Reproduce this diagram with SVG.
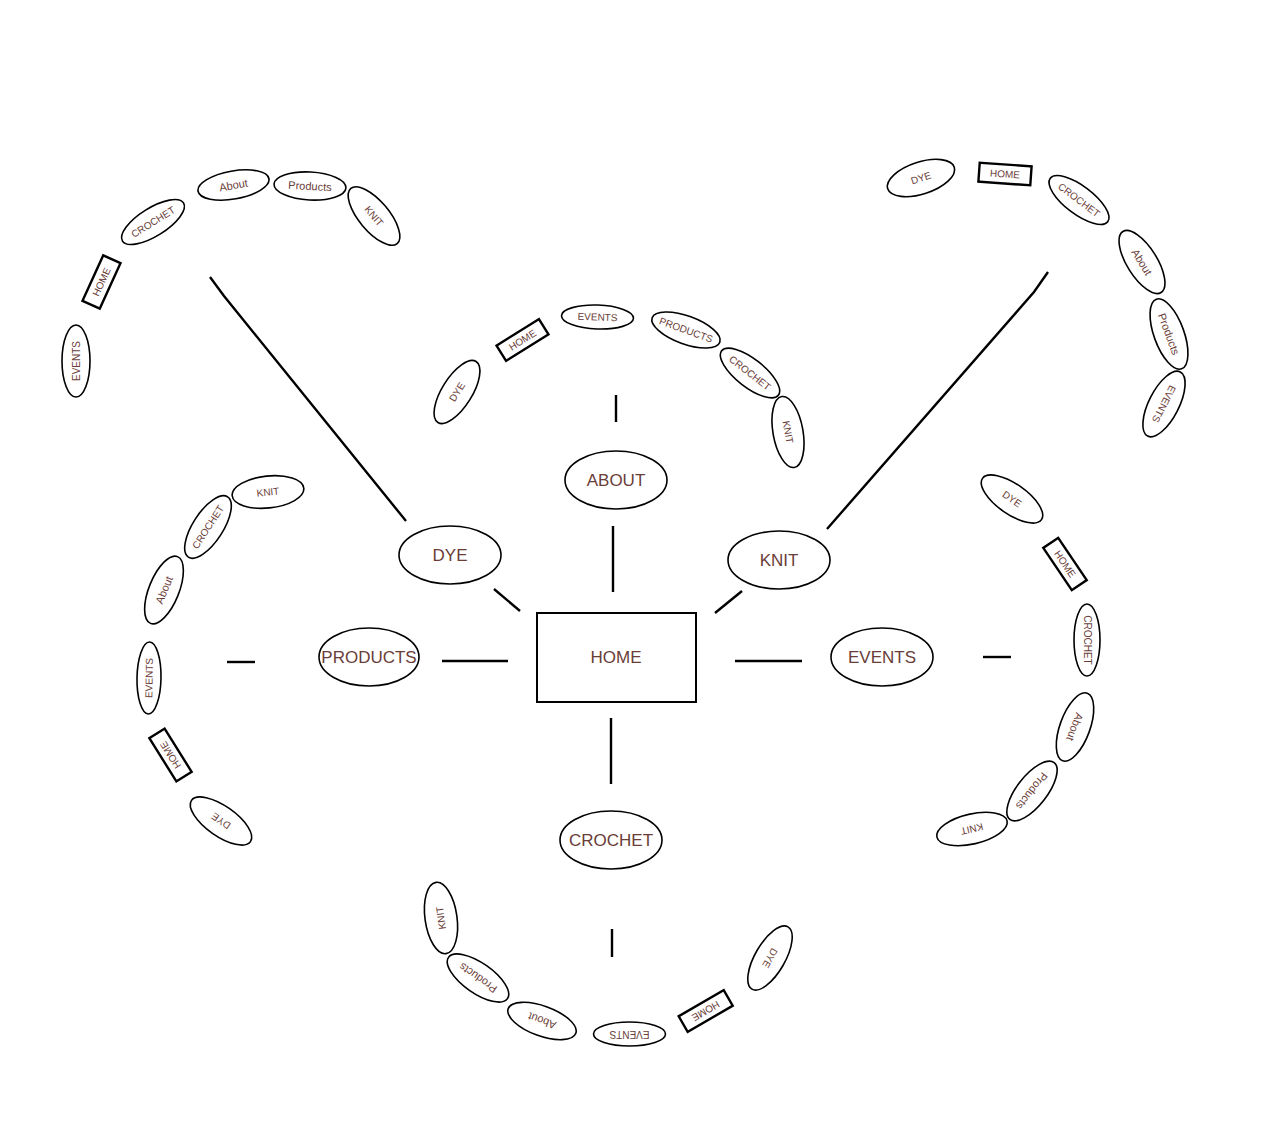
<svg xmlns="http://www.w3.org/2000/svg" width="1265" height="1131" viewBox="0 0 1265 1131">
<style>
.bg{fill:#ffffff}
.n ellipse{fill:#ffffff;stroke:#000;stroke-width:1.6}
.n rect.main{fill:#ffffff;stroke:#000;stroke-width:2}
.s ellipse{fill:#ffffff;stroke:#000;stroke-width:1.6}
.s rect{fill:#ffffff;stroke:#000;stroke-width:2.4}
text{font-family:"Liberation Sans",Arial,sans-serif;fill:#6a3d38;text-anchor:middle;dominant-baseline:central}
.n text{font-size:17px}
.s text{font-size:10px}
.s text.m{font-size:11px}
.c line,.c polyline{stroke:#000;stroke-width:2.4;fill:none}
</style>
<rect class="bg" x="0" y="0" width="1265" height="1131"/>
<g class="c" id="connectors">
<line x1="613" y1="526" x2="613" y2="592"/>
<line x1="494" y1="589" x2="520" y2="611"/>
<line x1="742" y1="591" x2="715" y2="613"/>
<line x1="442" y1="661" x2="508" y2="661"/>
<line x1="735" y1="661" x2="802" y2="661"/>
<line x1="611" y1="718" x2="611" y2="784"/>
<polyline points="406,521 224,296 210,277"/>
<polyline points="827,529 1034,292 1048,272"/>
<line x1="616" y1="395" x2="616" y2="422"/>
<line x1="227" y1="662" x2="255" y2="662"/>
<line x1="983" y1="657" x2="1011" y2="657"/>
<line x1="612" y1="929" x2="612" y2="957"/>
</g>
<g class="n" id="home"><rect class="main" x="537" y="613" width="159" height="89"/><text x="616" y="657">HOME</text></g>
<g class="n" id="about"><ellipse cx="616" cy="480" rx="51" ry="29"/><text x="616" y="480">ABOUT</text></g>
<g class="n" id="dye"><ellipse cx="450" cy="555" rx="51" ry="29"/><text x="450" y="555">DYE</text></g>
<g class="n" id="knit"><ellipse cx="779" cy="560" rx="51" ry="29"/><text x="779" y="560">KNIT</text></g>
<g class="n" id="products"><ellipse cx="369" cy="657" rx="50" ry="29"/><text x="369" y="657">PRODUCTS</text></g>
<g class="n" id="events"><ellipse cx="882" cy="657" rx="51" ry="29"/><text x="882" y="657">EVENTS</text></g>
<g class="n" id="crochet"><ellipse cx="611" cy="840" rx="51" ry="29"/><text x="611" y="840">CROCHET</text></g>

<g class="s" id="tl-events" transform="translate(76,361) rotate(-90)"><ellipse rx="36" ry="14"/><text>EVENTS</text></g>
<g class="s" id="tl-home" transform="translate(101.5,282) rotate(-65.5)"><rect x="-25" y="-9.5" width="50" height="19"/><text>HOME</text></g>
<g class="s" id="tl-crochet" transform="translate(153,222) rotate(-32)"><ellipse rx="36" ry="14"/><text>CROCHET</text></g>
<g class="s" id="tl-about" transform="translate(233.5,185) rotate(-10)"><ellipse rx="36" ry="14"/><text class="m">About</text></g>
<g class="s" id="tl-products" transform="translate(310,186) rotate(3)"><ellipse rx="36" ry="14"/><text class="m">Products</text></g>
<g class="s" id="tl-knit" transform="translate(374,216) rotate(50)"><ellipse rx="36" ry="15"/><text>KNIT</text></g>

<g class="s" id="tc-dye" transform="translate(457,392) rotate(-58)"><ellipse rx="36" ry="15"/><text>DYE</text></g>
<g class="s" id="tc-home" transform="translate(522.5,340) rotate(-32)"><rect x="-25" y="-9" width="50" height="18"/><text>HOME</text></g>
<g class="s" id="tc-events" transform="translate(597.5,317) rotate(2)"><ellipse rx="36" ry="12"/><text>EVENTS</text></g>
<g class="s" id="tc-products" transform="translate(686,330) rotate(20)"><ellipse rx="36" ry="14"/><text>PRODUCTS</text></g>
<g class="s" id="tc-crochet" transform="translate(750,373) rotate(38)"><ellipse rx="36" ry="14"/><text>CROCHET</text></g>
<g class="s" id="tc-knit" transform="translate(788,432) rotate(80)"><ellipse rx="36" ry="15"/><text>KNIT</text></g>

<g class="s" id="tr-dye" transform="translate(921,178) rotate(-18)"><ellipse rx="35" ry="16"/><text>DYE</text></g>
<g class="s" id="tr-home" transform="translate(1005,174) rotate(4)"><rect x="-26" y="-9.5" width="52" height="19"/><text>HOME</text></g>
<g class="s" id="tr-crochet" transform="translate(1079,200) rotate(37)"><ellipse rx="36" ry="14"/><text>CROCHET</text></g>
<g class="s" id="tr-about" transform="translate(1142,262) rotate(58)"><ellipse rx="36" ry="15"/><text class="m">About</text></g>
<g class="s" id="tr-products" transform="translate(1169,334) rotate(70)"><ellipse rx="37" ry="15"/><text class="m">Products</text></g>
<g class="s" id="tr-events" transform="translate(1164,404) rotate(117)"><ellipse rx="36" ry="15"/><text>EVENTS</text></g>

<g class="s" id="l-knit" transform="translate(268,492) rotate(-6)"><ellipse rx="36" ry="16"/><text>KNIT</text></g>
<g class="s" id="l-crochet" transform="translate(208,527) rotate(-57)"><ellipse rx="36" ry="15"/><text>CROCHET</text></g>
<g class="s" id="l-about" transform="translate(164,590) rotate(-68)"><ellipse rx="36" ry="15"/><text class="m">About</text></g>
<g class="s" id="l-events" transform="translate(149,678) rotate(-89)"><ellipse rx="36" ry="12"/><text>EVENTS</text></g>
<g class="s" id="l-home" transform="translate(170.5,755) rotate(-122)"><rect x="-25.5" y="-9" width="51" height="18"/><text>HOME</text></g>
<g class="s" id="l-dye" transform="translate(221,821) rotate(-145)"><ellipse rx="36" ry="15"/><text>DYE</text></g>

<g class="s" id="r-dye" transform="translate(1012,499) rotate(35)"><ellipse rx="36" ry="15"/><text>DYE</text></g>
<g class="s" id="r-home" transform="translate(1065,564) rotate(56)"><rect x="-25.5" y="-9" width="51" height="18"/><text>HOME</text></g>
<g class="s" id="r-crochet" transform="translate(1087,640) rotate(90)"><ellipse rx="36" ry="13"/><text>CROCHET</text></g>
<g class="s" id="r-about" transform="translate(1075,727) rotate(110)"><ellipse rx="36" ry="15"/><text class="m">About</text></g>
<g class="s" id="r-products" transform="translate(1032,791) rotate(128)"><ellipse rx="36" ry="15"/><text class="m">Products</text></g>
<g class="s" id="r-knit" transform="translate(972,829) rotate(167)"><ellipse rx="36" ry="15"/><text>KNIT</text></g>

<g class="s" id="b-knit" transform="translate(441,918) rotate(-98)"><ellipse rx="36" ry="16"/><text>KNIT</text></g>
<g class="s" id="b-products" transform="translate(478,978) rotate(-145)"><ellipse rx="36" ry="15"/><text class="m">Products</text></g>
<g class="s" id="b-about" transform="translate(542,1021) rotate(-160)"><ellipse rx="36" ry="15"/><text class="m">About</text></g>
<g class="s" id="b-events" transform="translate(629.5,1034) rotate(180)"><ellipse rx="36" ry="12"/><text>EVENTS</text></g>
<g class="s" id="b-home" transform="translate(705.7,1011) rotate(150)"><rect x="-26" y="-9" width="52" height="18"/><text>HOME</text></g>
<g class="s" id="b-dye" transform="translate(770,958) rotate(120)"><ellipse rx="36" ry="15"/><text>DYE</text></g>
</svg>
